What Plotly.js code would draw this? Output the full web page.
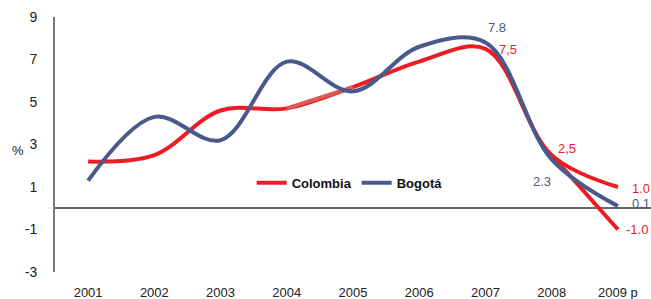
<!DOCTYPE html>
<html>
<head>
<meta charset="utf-8">
<script src="https://cdn.plot.ly/plotly-3.0.1.min.js"></script>
<style>html,body{margin:0;padding:0;background:#fff;}#chart{width:651px;height:299px;}</style>
</head>
<body>
<div id="chart"></div>
<script>
var years = ["2001","2002","2003","2004","2005","2006","2007","2008","2009 p"];
var colombia = [2.2, 2.5, 4.6, 4.7, 5.7, 6.9, 7.5, 2.5, 1.0];
var bogota = [1.3, 4.3, 3.2, 6.9, 5.5, 7.6, 7.8, 2.3, 0.1];
var colombiaAltYears = ["2008","2009 p"];
var colombiaAlt = [2.5, -1.0];
var highlightYears = ["2004","2005"];
var highlightVals = [4.7, 5.7];
var yTicks = [-3, -1, 1, 3, 5, 7, 9];

var red = "#ed1c24", blue = "#48598a", salmon = "#dc5a55";
var fontFam = "Liberation Sans Narrow, Arial Narrow, Liberation Sans, Arial, sans-serif";

var traces = [
  {x: years, y: colombia, type: "scatter", mode: "lines", name: "Colombia",
   line: {color: red, width: 4, shape: "spline", smoothing: 1}},
  {x: highlightYears, y: highlightVals, type: "scatter", mode: "lines", showlegend: false,
   line: {color: salmon, width: 4}},
  {x: colombiaAltYears, y: colombiaAlt, type: "scatter", mode: "lines", showlegend: false,
   line: {color: red, width: 4}},
  {x: years, y: bogota, type: "scatter", mode: "lines", name: "Bogotá",
   line: {color: blue, width: 4, shape: "spline", smoothing: 1}}
];

// value labels: [category index, y, text, color, xshift, yshift]
var labelDefs = [
  [6, bogota[6], "7.8", blue, 12, 15],
  [6, colombia[6], "7,5", red, 23, -1],
  [7, colombia[7], "2,5", red, 15, 7],
  [7, bogota[7], "2.3", blue, -10, -22],
  [8, colombia[8], "1.0", red, 23, -1],
  [8, bogota[8], "0.1", blue, 23, 3],
  [8, colombiaAlt[1], "-1.0", red, 19, 0]
];
var annotations = labelDefs.map(function(d){
  return {x: d[0], y: d[1], xref: "x", yref: "y", text: d[2], showarrow: false,
    xshift: d[4], yshift: d[5], font: {family: "Liberation Sans, Arial, sans-serif", size: 13, color: d[3]}};
});
annotations.push({x: -0.075, xref: "paper", y: 2.7, yref: "y", text: "%", showarrow: false,
  font: {family: fontFam, size: 13, color: "#222"}});

var layout = {
  width: 651, height: 299,
  margin: {l: 55, r: 0, t: 17, b: 27},
  paper_bgcolor: "#fff", plot_bgcolor: "#fff",
  showlegend: true,
  legend: {orientation: "h", x: 0.33, xanchor: "left", y: 0.35, yanchor: "middle",
    bgcolor: "rgba(0,0,0,0)", font: {family: "Liberation Sans, Arial, sans-serif", size: 13, color: "#111", weight: "bold"},
    itemwidth: 30, tracegroupgap: 0},
  xaxis: {type: "category", range: [-0.5, 8.5], showgrid: false, zeroline: false, showline: false,
    ticks: "", ticklabelstandoff: 11, tickfont: {family: fontFam, size: 13, color: "#222"}, fixedrange: true},
  yaxis: {range: [-3, 9], tickvals: yTicks, ticktext: yTicks.map(String), showgrid: false,
    zeroline: true, zerolinecolor: "#666", zerolinewidth: 2,
    showline: true, linecolor: "#7a7a7a", linewidth: 2, ticks: "", ticklabelstandoff: 13,
    tickfont: {family: fontFam, size: 14, color: "#222"}, fixedrange: true},
  annotations: annotations
};
Plotly.newPlot("chart", traces, layout, {displayModeBar: false, staticPlot: true});
</script>
</body>
</html>
